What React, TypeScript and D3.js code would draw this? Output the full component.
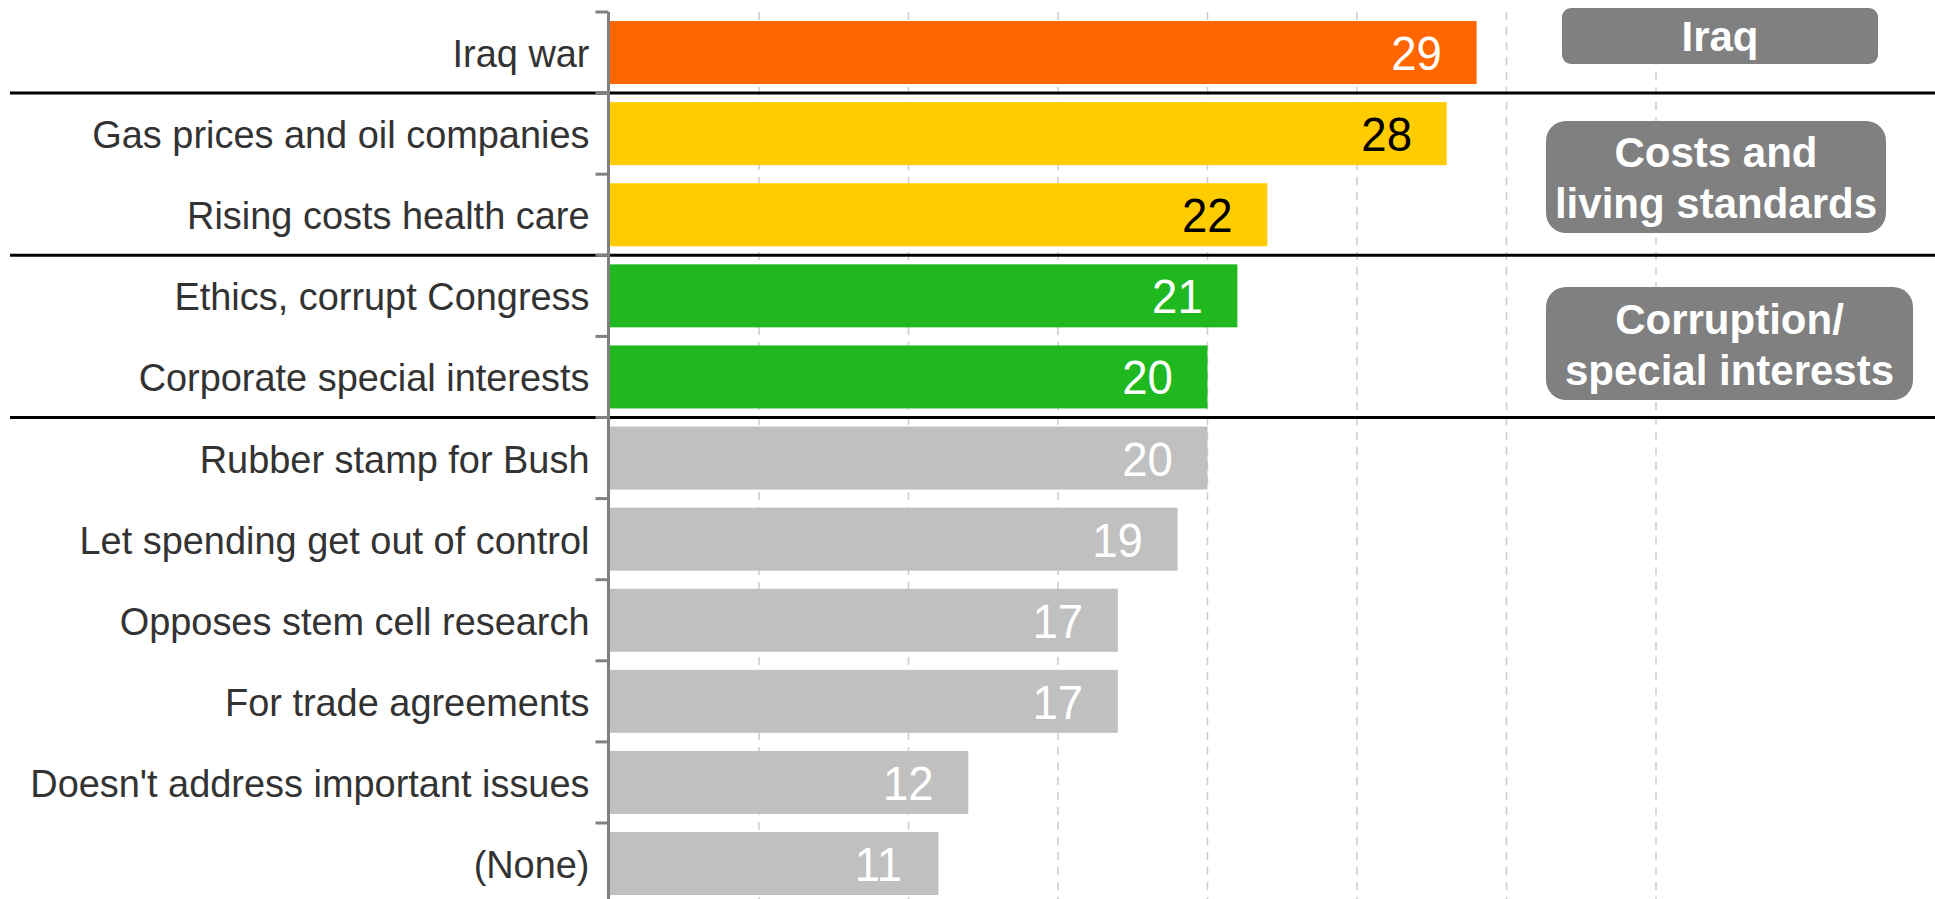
import React from "react";
import * as d3 from "d3";

const categories = [
  "Iraq war",
  "Gas prices and oil companies",
  "Rising costs health care",
  "Ethics, corrupt Congress",
  "Corporate special interests",
  "Rubber stamp for Bush",
  "Let spending get out of control",
  "Opposes stem cell research",
  "For trade agreements",
  "Doesn't address important issues",
  "(None)",
];
const values = [29, 28, 22, 21, 20, 20, 19, 17, 17, 12, 11];
const groups = [
  "iraq",
  "costs",
  "costs",
  "corruption",
  "corruption",
  "other",
  "other",
  "other",
  "other",
  "other",
  "other",
];
const gridTicks = [5, 10, 15, 20, 25, 30, 35];
const groupTitles: { key: string; lines: string[] }[] = [
  { key: "iraq", lines: ["Iraq"] },
  { key: "costs", lines: ["Costs and", "living standards"] },
  { key: "corruption", lines: ["Corruption/", "special interests"] },
];

const barColor: Record<string, string> = {
  iraq: "#FF6600",
  costs: "#FFCC00",
  corruption: "#1FB91F",
  other: "#C0C0C0",
};
const valueColor: Record<string, string> = {
  iraq: "#FFFFFF",
  costs: "#000000",
  corruption: "#FFFFFF",
  other: "#FFFFFF",
};

// layout for group title boxes
const boxLayout: Record<string, { x0: number; x1: number; y0: number; y1: number; r: number; base: number }> = {
  iraq: { x0: 1562, x1: 1878, y0: 8, y1: 64, r: 9, base: 51 },
  costs: { x0: 1546, x1: 1886, y0: 121, y1: 233, r: 20, base: 167 },
  corruption: { x0: 1546, x1: 1913, y0: 287, y1: 400, r: 20, base: 334 },
};

const W = 1935;
const H = 899;
const axisX = 609.5;
const top = 12;
const step = 81.1;

export default function App() {
  const x = d3.scaleLinear().domain([0, 40]).range([axisX, axisX + 40 * 29.9]);
  const y = d3
    .scaleBand<string>()
    .domain(categories)
    .range([top, top + step * categories.length])
    .paddingInner(0.223)
    .paddingOuter(0.1115);
  const st = y.step();
  const boundaries = d3.range(categories.length + 1).map((k) => top + st * k);
  const sepAfter = [0, 2, 4];
  const font = "'Liberation Sans', Arial, Helvetica, sans-serif";

  return (
    <svg
      width={W}
      height={H}
      style={{ position: "absolute", left: 0, top: 0, display: "block", background: "#fff" }}
    >
      {/* gridlines */}
      {gridTicks.map((t) => (
        <line
          key={"g" + t}
          x1={x(t)}
          x2={x(t)}
          y1={top}
          y2={H}
          stroke="#cccccc"
          strokeWidth={1.5}
          strokeDasharray="8,7"
        />
      ))}
      {/* bars */}
      {categories.map((c, i) => (
        <rect
          key={"b" + i}
          x={x(0)}
          y={y(c)!}
          width={x(values[i]) - x(0)}
          height={y.bandwidth()}
          fill={barColor[groups[i]]}
        />
      ))}
      {/* value labels */}
      {categories.map((c, i) => (
        <text
          key={"v" + i}
          transform={`translate(${x(values[i]) - 60},${y(c)! + y.bandwidth() / 2 + 17.5}) scale(0.93,1)`}
          textAnchor="middle"
          fontFamily={font}
          fontSize={49}
          fill={valueColor[groups[i]]}
        >
          {values[i]}
        </text>
      ))}
      {/* category labels */}
      {categories.map((c, i) => (
        <text
          key={"c" + i}
          transform={`translate(${axisX - 20},${y(c)! + y.bandwidth() / 2 + 14.5}) scale(0.96,1)`}
          textAnchor="end"
          fontFamily={font}
          fontSize={39.5}
          fill="#333333"
        >
          {c}
        </text>
      ))}
      {/* separators */}
      {sepAfter.map((i) => (
        <line
          key={"s" + i}
          x1={10}
          x2={W}
          y1={boundaries[i + 1]}
          y2={boundaries[i + 1]}
          stroke="#000"
          strokeWidth={3}
        />
      ))}
      {/* axis */}
      <line x1={axisX - 1} x2={axisX - 1} y1={top} y2={H} stroke="#808080" strokeWidth={3} />
      {boundaries.map((b, k) => (
        <line key={"t" + k} x1={axisX - 14} x2={axisX - 1} y1={b} y2={b} stroke="#808080" strokeWidth={3} />
      ))}
      {/* group boxes */}
      {groupTitles.map((g) => {
        const L = boxLayout[g.key];
        const cx = (L.x0 + L.x1) / 2;
        return (
          <g key={"box" + g.key}>
            <rect x={L.x0} y={L.y0} width={L.x1 - L.x0} height={L.y1 - L.y0} rx={L.r} ry={L.r} fill="#808080" />
            {g.lines.map((ln, j) => (
              <text
                key={j}
                x={cx}
                y={L.base + j * 51}
                textAnchor="middle"
                fontFamily={font}
                fontWeight="bold"
                fontSize={42}
                fill="#FFFFFF"
              >
                {ln}
              </text>
            ))}
          </g>
        );
      })}
    </svg>
  );
}
